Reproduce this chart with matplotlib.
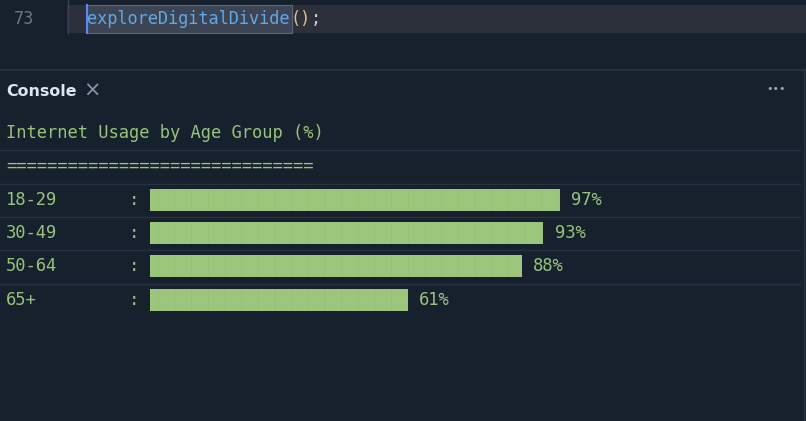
import matplotlib.pyplot as plt

# Data
age_groups = ['18-29', '30-49', '50-64', '65+']
usage = [97, 93, 88, 61]
title = 'Internet Usage by Age Group (%)'

# Colours
bg = '#17212d'
green = '#98c379'
bar_color = '#9cc67c'
line_color = '#263241'
mono = 'DejaVu Sans Mono'
fs = 12.35
fs_ed = 12.15
cw = 10.15  # char width in px (editor)

W, H = 806, 421
fig = plt.figure(figsize=(W / 100, H / 100), dpi=100, facecolor=bg)

# overlay in pixel coordinates for the editor / console chrome
ov = fig.add_axes([0, 0, 1, 1])
ov.set_xlim(0, W)
ov.set_ylim(H, 0)
ov.axis('off')
ov.set_facecolor(bg)

# editor: current line highlight
ov.add_patch(plt.Rectangle((67, 5), W - 67, 28, facecolor='#2b303b', lw=0, zorder=0))
ov.plot([67.5, 67.5], [0, 33], color='#3a4250', lw=1)
ov.text(14, 19, '73', color='#6b7584', fontsize=fs_ed, family=mono, va='center')
ov.add_patch(plt.Rectangle((86, 5), 206, 28, facecolor='#3d4555', edgecolor='#5d6676', lw=0.8, zorder=1))
ov.plot([86.5, 86.5], [5, 33], color='#528bff', lw=1.5, zorder=3)
ov.text(87, 19, 'exploreDigitalDivide', color='#61a8e8', fontsize=fs_ed, family=mono, va='center', zorder=4)
ov.text(87 + 20 * cw, 19, '()', color='#e5c07b', fontsize=fs_ed, family=mono, va='center', zorder=4)
ov.text(87 + 22 * cw, 19, ';', color='#c9d1d9', fontsize=fs_ed, family=mono, va='center', zorder=4)

# console header
ov.plot([0, W], [69.5, 69.5], color='#2a3442', lw=1.2)
ov.text(6, 92, 'Console', color='#dde6f0', fontsize=11.4, fontweight='bold', va='center')
ov.text(92, 91, '×', color='#8a96a6', fontsize=15, va='center', ha='center')
ov.text(776, 89, '•••', color='#9aa6b6', fontsize=8, va='center', ha='center')
ov.plot([803.5, 803.5], [69, H], color='#2a3442', lw=1)

# console lines
for y in [150, 183.5, 216.5, 250, 284]:
    ov.plot([0, 800], [y, y], color=line_color, lw=1)

ov.text(6, 133, title, color=green, fontsize=fs, family=mono, va='center')
ov.text(6, 166, '=' * 30, color=green, fontsize=fs, family=mono, va='center')

row_h = 33.2
first_row = 200
for i, g in enumerate(age_groups):
    y = first_row + i * row_h
    ov.text(6, y, g, color=green, fontsize=fs, family=mono, va='center')
    ov.text(129, y, ':', color=green, fontsize=fs, family=mono, va='center')

# bar axes
x0 = 150
top = first_row - row_h / 2
bottom = first_row + (len(age_groups) - 0.5) * row_h
ax = fig.add_axes([x0 / W, 1 - bottom / H, (W - x0) / W, (bottom - top) / H])
ax.patch.set_alpha(0)
px_per_pct = 4.23
ax.set_xlim(0, (W - x0) / px_per_pct)
ax.set_ylim(len(age_groups) - 0.5, -0.5)
ax.axis('off')

plt.rcParams['hatch.linewidth'] = 0.5
bars = ax.barh(range(len(age_groups)), usage, height=22 / row_h, color=bar_color,
               edgecolor='#93c073', linewidth=0, hatch='|')
for b, v in zip(bars, usage):
    ax.annotate(f'{v}%', (v, b.get_y() + b.get_height() / 2), xytext=(8, 0),
                textcoords='offset points', color=green, fontsize=fs, family=mono, va='center')

plt.savefig('out.png', dpi=100, facecolor=bg)
